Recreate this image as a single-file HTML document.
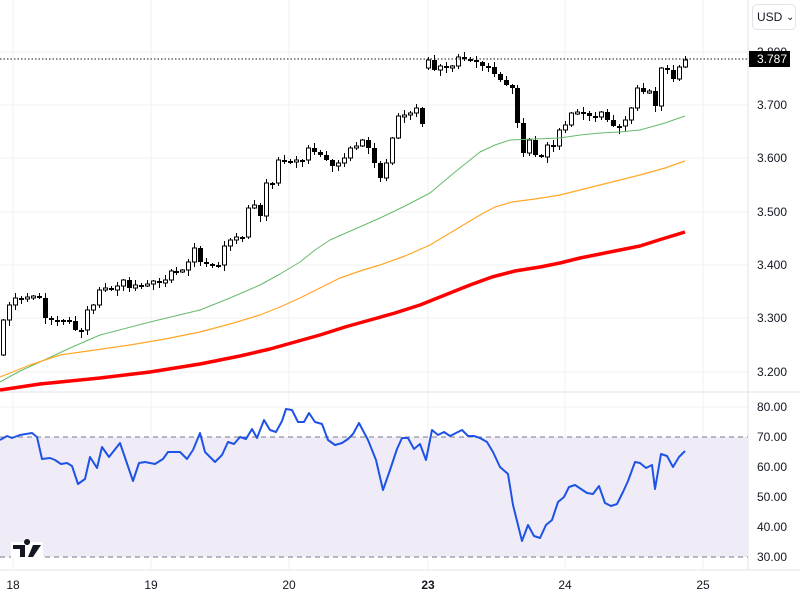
<!DOCTYPE html>
<html><head><meta charset="utf-8"><style>
body{margin:0;background:#fff;font-family:"Liberation Sans",sans-serif;}
svg{display:block}
text{font-family:"Liberation Sans",sans-serif;font-size:12px;fill:#131722}
</style></head><body>
<svg id="s" width="800" height="600" xmlns="http://www.w3.org/2000/svg">
<rect width="800" height="600" fill="#fff"/>
<g stroke="#f0f0f3" stroke-width="1">
<line x1="0" y1="52" x2="748" y2="52"/><line x1="0" y1="105" x2="748" y2="105"/><line x1="0" y1="158" x2="748" y2="158"/><line x1="0" y1="212" x2="748" y2="212"/><line x1="0" y1="265" x2="748" y2="265"/><line x1="0" y1="318" x2="748" y2="318"/><line x1="0" y1="372" x2="748" y2="372"/>
<line x1="13" y1="0" x2="13" y2="570"/><line x1="151" y1="0" x2="151" y2="570"/><line x1="289" y1="0" x2="289" y2="570"/><line x1="428" y1="0" x2="428" y2="570"/><line x1="565" y1="0" x2="565" y2="570"/><line x1="703" y1="0" x2="703" y2="570"/>
<line x1="0" y1="407" x2="748" y2="407"/><line x1="0" y1="467" x2="748" y2="467"/><line x1="0" y1="497" x2="748" y2="497"/><line x1="0" y1="527" x2="748" y2="527"/>
</g>
<line x1="748" y1="0" x2="748" y2="570" stroke="#e0e3eb"/>
<line x1="0" y1="392" x2="800" y2="392" stroke="#e0e3eb"/>
<line x1="0" y1="570" x2="800" y2="570" stroke="#e0e3eb"/>
<rect x="0" y="437" width="748" height="120" fill="#efecf8"/>
<line x1="0" y1="437" x2="748" y2="437" stroke="#787b86" stroke-dasharray="5,4"/>
<line x1="0" y1="557" x2="748" y2="557" stroke="#787b86" stroke-dasharray="5,4"/>
<g id="c"></g>
<polyline fill="none" stroke="#66bb6a" stroke-width="1" stroke-linejoin="round" points="0,382 20,371 40,362 70,348 100,335 150,322 200,310 230,298 260,285 280,274 300,262 315,250 330,240 355,229 380,218 405,206 430,193 455,172 480,152 495,145 510,140 535,139 560,138 580,135 600,133 620,132 640,130 665,123 685,116"/>
<polyline fill="none" stroke="#ffa726" stroke-width="1.2" stroke-linejoin="round" points="0,377 30,365 60,355 95,350 130,345 165,339 200,332 230,324 260,315 280,307 300,298 320,288 340,278 360,271 380,265 405,256 430,245 455,230 480,215 495,207 512,202 535,199 560,195 580,190 600,185 620,180 640,175 665,168 685,161"/>
<polyline fill="none" stroke="#f00" stroke-width="3.5" stroke-linejoin="round" points="0,390 40,384 100,378 150,372 200,364 240,356 270,349 295,342 320,335 345,327 370,320 395,313 420,305 445,295 470,285 492,277 515,271 540,267 560,263 580,258 600,254 620,250 640,246 662,239 685,232"/>
<polyline fill="none" stroke="#1e53e5" stroke-width="2" stroke-linejoin="round" points="0,440 7,436 12,438 20,435 32,433 37,437 42,459 50,458 55,460 61,464 67,463 72,466 78,484 85,479 90,457 97,468 102,447 109,457 120,443 133,481 139,463 145,462 155,464 163,459 168,452 180,452 187,459 193,450 200,433 205,452 215,462 222,455 228,442 234,444 240,437 246,439 252,429 257,438 264,420 270,430 276,432 282,421 286,409 292,410 298,422 304,422 309,413 315,422 322,424 328,440 335,445 342,443 348,439 353,434 359,423 368,440 376,460 383,490 390,470 397,449 402,438 408,438 414,449 420,444 426,460 432,430 438,435 444,432 450,436 456,433 462,430 468,436 474,436 480,438 487,442 493,452 500,467 508,474 513,505 518,525 522,541 528,525 534,536 540,538 546,525 552,520 558,502 564,497 569,487 575,485 581,489 587,493 593,494 599,486 605,503 611,506 617,504 623,492 628,481 635,462 640,463 646,468 652,465 655,489 661,454 667,456 673,467 679,457 685,451"/>
<line x1="0" y1="59" x2="748" y2="59" stroke="#131722" stroke-dasharray="1.5,2"/>
<g text-anchor="start">
<text x="757" y="56">3.800</text><text x="757" y="109">3.700</text><text x="757" y="162">3.600</text><text x="757" y="216">3.500</text><text x="757" y="269">3.400</text><text x="757" y="322">3.300</text><text x="757" y="376">3.200</text>
<text x="757" y="411">80.00</text><text x="757" y="441">70.00</text><text x="757" y="471">60.00</text><text x="757" y="501">50.00</text><text x="757" y="531">40.00</text><text x="757" y="561">30.00</text>
</g>
<rect x="749" y="51" width="41" height="16" fill="#000"/>
<text x="757" y="63" style="fill:#fff">3.787</text>
<rect x="752.5" y="4.5" width="43" height="25" rx="4" fill="#fff" stroke="#e0e3eb"/>
<text x="757" y="21">USD</text><text x="786" y="20" style="font-size:10px">⌄</text>
<g text-anchor="middle"><text x="13" y="589">18</text><text x="151" y="589">19</text><text x="289" y="589">20</text><text x="428" y="589" style="font-weight:bold">23</text><text x="565" y="589">24</text><text x="703" y="589">25</text></g>
<rect x="11" y="542" width="32" height="16" fill="#fff"/>
<path d="M13 545h12v12h-5v-8h-7z M27 545a3 3 0 1 1 0.1 0z M33 545h8l-8 12h-5z" fill="#131722"/>
</svg>
<script>
var cl=[320,305,298,298,297,296,298,318,320,320,320,321,330,330,310,305,290,288,290,286,280,288,285,285,284,281,283,280,271,272,270,262,248,262,264,265,265,246,240,237,237,208,205,216,183,183,160,161,161,160,160,148,152,155,160,166,163,158,148,146,140,148,163,178,163,138,116,115,113,108,124,60,70,66,68,66,57,59,60,62,66,67,74,80,85,88,123,153,140,155,157,145,146,130,125,113,112,113,116,117,112,120,126,126,120,108,88,92,91,106,68,70,79,67,60];
var g=document.getElementById('c'),h='';var n=cl.length,step=(685-3)/(n-1);
for(var i=0;i<n;i++){var o=i==0?355:cl[i-1];if(i==71)o=68;var c=cl[i];var x=Math.round(3+i*step);var t=Math.min(o,c),b=Math.max(o,c);if(b-t<2){b=t+2;}
var wt=t-((i*7)%5)-1,wb=b+((i*11)%6)+1;
h+='<line x1="'+(x+0.5)+'" y1="'+wt+'" x2="'+(x+0.5)+'" y2="'+wb+'" stroke="#000"/>';
if(c<o)h+='<rect x="'+(x-1.5)+'" y="'+t+'" width="4" height="'+(b-t)+'" fill="#fff" stroke="#000"/>';
else h+='<rect x="'+(x-2)+'" y="'+t+'" width="5" height="'+(b-t)+'" fill="#000"/>';}
g.innerHTML=h;
</script>
</body></html>
